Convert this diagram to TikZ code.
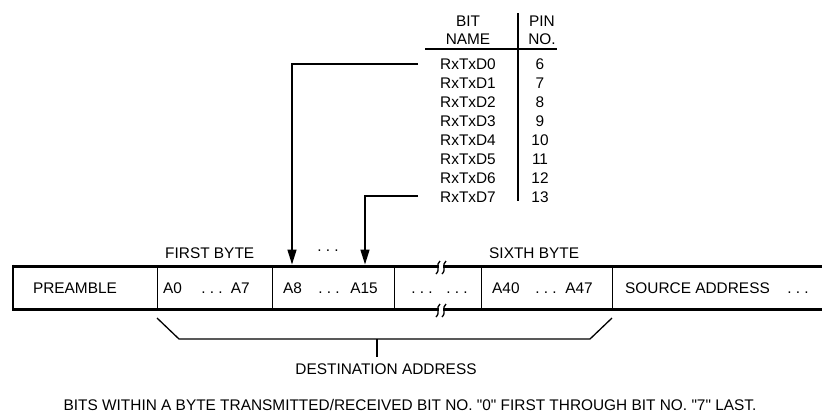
\documentclass[tikz,border=0pt]{standalone}
\usepackage{fontspec}
\newfontfamily\labfont{Liberation Sans}
\usetikzlibrary{arrows.meta}
\begin{document}
\begin{tikzpicture}[x=1pt,y=-1pt,
  txt/.style={font=\labfont\fontsize{15.4}{18}\selectfont, inner sep=0pt},
  heavy/.style={line width=3pt},
  divline/.style={line width=1pt},
  rulel/.style={line width=1.3pt},
  arr/.style={line width=1.5pt, -{Triangle[length=15pt,width=9pt]}},
  squig/.style={line width=1.3pt}]
\useasboundingbox (0,0) rectangle (822,416);
% table
\node[txt,anchor=base] (bit) at (468,26.5) {BIT};
\node[txt,anchor=base] (name) at (468,44.5) {NAME};
\node[txt,anchor=base] (pin) at (542,26.5) {PIN};
\node[txt,anchor=base] (no) at (542,44.5) {NO.};
\draw[rulel] (425,49) -- (557,49);
\draw[rulel] (518,13) -- (518,201);
\foreach \i/\p in {0/6,1/7,2/8,3/9,4/10,5/11,6/12,7/13}{
  \node[txt,anchor=base] (d\i) at (468,69.5+19*\i) {RxTxD\i};
  \node[txt,anchor=base] (p\i) at (540,69.5+19*\i) {\p};
}
% frame
\draw[heavy] (12,266) -- (822,266);
\draw[heavy] (12,309) -- (822,309);
\draw[line width=2pt] (13,264.5) -- (13,310.5);
\foreach \x in {157,272,394,481,612} \draw[divline] (\x,266) -- (\x,309);
% break marks
\foreach \yc in {266,309}{
  \fill[white] (438.7,\yc-2) rectangle (443.3,\yc+2);
  \foreach \xo in {438,444}
    \draw[squig] (\xo+2,\yc-5) .. controls (\xo-3,\yc-1) and (\xo+3,\yc+3) .. (\xo-2,\yc+8);
}
% labels above
\node[txt,anchor=base west] (fb) at (165,258.5) {FIRST BYTE};
\node[txt,anchor=base] (topdots) at (328,251) {.\ .\ .};
\node[txt,anchor=base west] (sb) at (489,258.5) {SIXTH BYTE};
% cell texts
\node[txt,anchor=base] (pre) at (75,293.5) {PREAMBLE};
\node[txt,anchor=base west] (a0) at (163,293.5) {A0};
\node[txt,anchor=base] (dots1) at (212,293.5) {.\ .\ .};
\node[txt,anchor=base east] (a7) at (250,293.5) {A7};
\node[txt,anchor=base west] (a8) at (283,293.5) {A8};
\node[txt,anchor=base] (dots2) at (329,293.5) {.\ .\ .};
\node[txt,anchor=base east] (a15) at (378,293.5) {A15};
\node[txt,anchor=base] (mdots1) at (422,293.5) {.\ .\ .};
\node[txt,anchor=base] (mdots2) at (457,293.5) {.\ .\ .};
\node[txt,anchor=base west] (a40) at (492,293.5) {A40};
\node[txt,anchor=base] (dots3) at (546,293.5) {.\ .\ .};
\node[txt,anchor=base east] (a47) at (593,293.5) {A47};
\node[txt,anchor=base west] (src) at (625,293.5) {SOURCE ADDRESS};
\node[txt,anchor=base] (dots4) at (798,293.5) {.\ .\ .};
% arrows
\coordinate (l0) at (418,64);
\coordinate (l7) at (418,196);
\coordinate (t1) at (292,264.5);
\coordinate (t2) at (365,264.5);
\draw[arr] (l0) -| (t1);
\draw[arr] (l7) -| (t2);
% bracket
\coordinate (bl) at (157,318);
\coordinate (br) at (612,318);
\coordinate (tick) at (377,339);
\draw[rulel] (bl) -- (179,339) -- (590,339) -- (br);
\draw[rulel] (tick) -- (377,357);
\node[txt,anchor=base] (dest) at (386,374.5) {DESTINATION ADDRESS};
\node[txt,anchor=base] (note) at (410,410.5) {BITS WITHIN A BYTE TRANSMITTED/RECEIVED BIT NO. "0" FIRST THROUGH BIT NO. "7" LAST.};
\end{tikzpicture}
\end{document}
